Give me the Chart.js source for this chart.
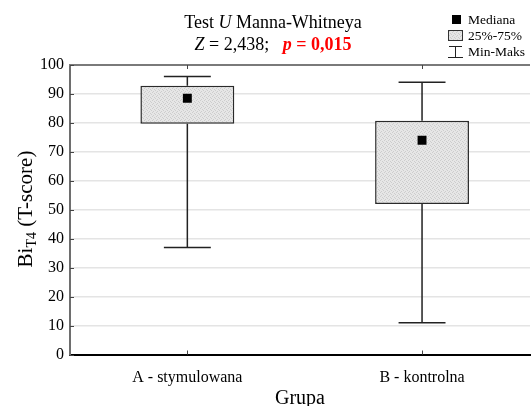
<!DOCTYPE html>
<html lang="pl">
<head>
  <meta charset="UTF-8" />
  <title>Test U Manna-Whitneya</title>
  <script src="https://cdn.jsdelivr.net/npm/chart.js"></script>
  <style>
    html, body { margin: 0; padding: 0; background: #fff; }
    #wrap { width: 531px; height: 406px; }
  </style>
</head>
<body>
  <div id="wrap"><canvas id="boxChart"></canvas></div>

  <script>
    // data
    const groups = ["A - stymulowana", "B - kontrolna"];
    const minVals = [37, 11];
    const q1Vals = [79.7, 52];
    const medians = [88.5, 74];
    const q3Vals = [92.8, 80.7];
    const maxVals = [96, 94];
    const yTicks = [0, 10, 20, 30, 40, 50, 60, 70, 80, 90, 100];

    const serif = '"Liberation Serif", "Times New Roman", serif';
    const capHalf = 0.1;

    const ctx = document.getElementById("boxChart").getContext("2d");

    // light grey stippled fill like the original box
    function stipple() {
      const c = document.createElement("canvas");
      c.width = 4; c.height = 4;
      const g = c.getContext("2d");
      g.fillStyle = "#e6e6e6";
      g.fillRect(0, 0, 4, 4);
      g.fillStyle = "#cdcdcd";
      [[0, 0], [2, 1], [1, 3], [3, 2]].forEach(([x, y]) => g.fillRect(x, y, 1, 1));
      return ctx.createPattern(c, "repeat");
    }
    const boxFill = stipple();

    function drawRuns(c, runs, cx, baseline) {
      let total = 0;
      runs.forEach(r => { c.font = r.font; total += c.measureText(r.text).width; });
      let x = cx - total / 2;
      c.textAlign = "left";
      c.textBaseline = "alphabetic";
      runs.forEach(r => {
        c.font = r.font;
        c.fillStyle = r.color || "#000";
        c.fillText(r.text, x, baseline + (r.dy || 0));
        x += c.measureText(r.text).width;
      });
    }

    const boxExtras = {
      id: "boxExtras",
      beforeDatasetsDraw(chart) {
        const { ctx: c, scales: { x, y } } = chart;
        c.save();
        c.strokeStyle = "#222";
        c.lineWidth = 1.5;
        groups.forEach((g, i) => {
          const cx = x.getPixelForValue(i + 1);
          const l = x.getPixelForValue(i + 1 - capHalf);
          const r = x.getPixelForValue(i + 1 + capHalf);
          const yMax = y.getPixelForValue(maxVals[i]);
          const yMin = y.getPixelForValue(minVals[i]);
          c.beginPath();
          c.moveTo(cx, yMax); c.lineTo(cx, y.getPixelForValue(q3Vals[i]));
          c.moveTo(cx, y.getPixelForValue(q1Vals[i])); c.lineTo(cx, yMin);
          c.moveTo(l, yMax); c.lineTo(r, yMax);
          c.moveTo(l, yMin); c.lineTo(r, yMin);
          c.stroke();
        });
        c.restore();
      },
      afterDraw(chart) {
        const { ctx: c, chartArea: a, scales: { x, y } } = chart;
        c.save();

        // top frame line
        c.strokeStyle = "#7a7a7a";
        c.lineWidth = 2;
        c.beginPath();
        c.moveTo(a.left - 1, a.top);
        c.lineTo(a.right, a.top);
        c.stroke();

        // small inner tick marks
        c.strokeStyle = "#444";
        c.lineWidth = 1;
        c.beginPath();
        groups.forEach((g, i) => {
          const px = Math.round(x.getPixelForValue(i + 1)) + 0.5;
          c.moveTo(px, a.bottom); c.lineTo(px, a.bottom - 4);
          c.moveTo(px, a.top); c.lineTo(px, a.top + 4);
        });
        yTicks.forEach(v => {
          const py = Math.round(y.getPixelForValue(v)) + 0.5;
          c.moveTo(a.left, py); c.lineTo(a.left + 4, py);
        });
        c.stroke();

        // title
        const tx = 273;
        drawRuns(c, [
          { text: "Test ", font: `18px ${serif}` },
          { text: "U", font: `italic 18px ${serif}` },
          { text: " Manna-Whitneya", font: `18px ${serif}` }
        ], tx, 28);
        drawRuns(c, [
          { text: "Z", font: `italic 18px ${serif}` },
          { text: " = 2,438;   ", font: `18px ${serif}` },
          { text: "p", font: `italic bold 18px ${serif}`, color: "#f00" },
          { text: " = 0,015", font: `bold 18px ${serif}`, color: "#f00" }
        ], tx, 50);

        // y axis title with subscript
        c.save();
        c.translate(25, 209);
        c.rotate(-Math.PI / 2);
        drawRuns(c, [
          { text: "Bi", font: `21px ${serif}` },
          { text: "T4", font: `14px ${serif}`, dy: 4 },
          { text: " (T-score)", font: `21px ${serif}` }
        ], 0, 7);
        c.restore();

        // legend
        c.fillStyle = "#000";
        c.fillRect(452, 15, 9, 9);
        c.fillStyle = boxFill;
        c.fillRect(448, 30, 15, 10);
        c.strokeStyle = "#333";
        c.lineWidth = 1;
        c.strokeRect(448.5, 30.5, 14, 10);
        c.strokeStyle = "#222";
        c.beginPath();
        c.moveTo(449, 46.5); c.lineTo(462, 46.5);
        c.moveTo(455.5, 46.5); c.lineTo(455.5, 57.5);
        c.moveTo(448, 57.5); c.lineTo(463, 57.5);
        c.stroke();
        c.fillStyle = "#000";
        c.font = `13.5px ${serif}`;
        c.textAlign = "left";
        c.textBaseline = "alphabetic";
        c.fillText("Mediana", 468, 24);
        c.fillText("25%-75%", 468, 40);
        c.fillText("Min-Maks", 468, 56);

        c.restore();
      }
    };

    new Chart(ctx, {
      type: "bar",
      data: {
        datasets: [
          {
            type: "scatter",
            label: "Mediana",
            data: medians.map((m, i) => ({ x: i + 1, y: m })),
            pointStyle: "rect",
            radius: 6.3,
            backgroundColor: "#000",
            borderWidth: 0,
            order: 0
          },
          {
            label: "25%-75%",
            data: q1Vals.map((q, i) => ({ x: i + 1, y: [q, q3Vals[i]] })),
            backgroundColor: boxFill,
            borderColor: "#2a2a2a",
            borderWidth: 1.5,
            borderSkipped: false,
            barPercentage: 0.4,
            categoryPercentage: 1,
            order: 1
          }
        ]
      },
      options: {
        responsive: true,
        maintainAspectRatio: false,
        animation: false,
        layout: {
          autoPadding: false,
          padding: { top: 65, right: 1, left: 0, bottom: 0 }
        },
        plugins: {
          legend: { display: false },
          tooltip: { enabled: false }
        },
        scales: {
          x: {
            type: "linear",
            min: 0.5,
            max: 2.46,
            offset: false,
            afterFit(s) {
              s.height = 51.5;
              s.paddingLeft = 0;
              s.paddingRight = 0;
            },
            afterBuildTicks(s) { s.ticks = groups.map((g, i) => ({ value: i + 1 })); },
            ticks: {
              callback: v => groups[v - 1],
              color: "#000",
              font: { family: serif, size: 16 },
              padding: 6,
              maxRotation: 0,
              autoSkip: false
            },
            grid: { display: false, offset: false },
            border: { color: "#000", width: 2 },
            title: {
              display: true,
              text: "Grupa",
              color: "#000",
              font: { family: serif, size: 20, lineHeight: 1 },
              padding: { top: 0, bottom: -3 }
            }
          },
          y: {
            min: 0,
            max: 100,
            afterFit(s) { s.width = 70; },
            afterBuildTicks(s) { s.ticks = yTicks.map(v => ({ value: v })); },
            ticks: {
              color: "#000",
              font: { family: serif, size: 16 },
              padding: 6
            },
            grid: { color: "#e4e4e4", lineWidth: 1.5, drawTicks: false },
            border: { color: "#6e6e6e", width: 2 }
          }
        }
      },
      plugins: [boxExtras]
    });
  </script>
</body>
</html>
